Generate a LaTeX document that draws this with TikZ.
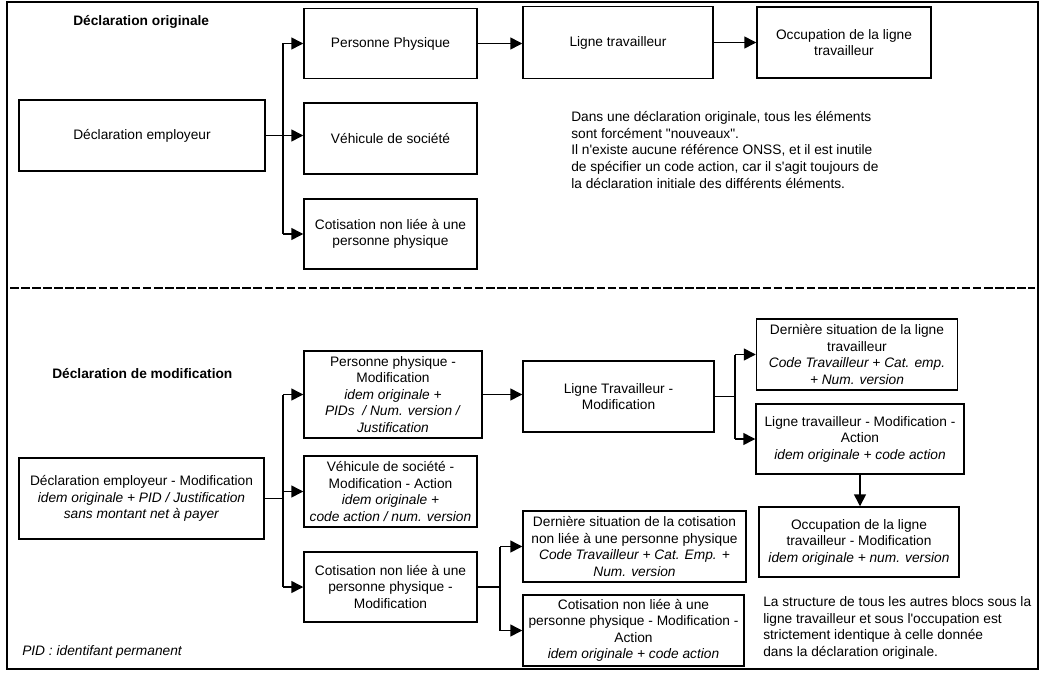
\documentclass[tikz,border=0pt]{standalone}
\usepackage{fontspec}
\setmainfont{Liberation Sans}[Ligatures=TeXOff]
\usetikzlibrary{arrows.meta}
\begin{document}
\begin{tikzpicture}[x=0.75pt,y=-0.75pt,
  every node/.style={font=\fontsize{10.3}{12.4}\selectfont},
  box/.style={draw, line width=1.1pt, align=center, inner sep=0pt},
  conn/.style={line width=1.1pt},
  arr/.style={line width=1.1pt, -{Triangle[length=9pt,width=9pt]}},
  title/.style={font=\fontsize{10.3}{12.4}\selectfont\bfseries, anchor=west, inner sep=0pt},
  note/.style={align=left, anchor=west, inner sep=0pt}]
\useasboundingbox (0,0) rectangle (1045,674);
% frame and separator
\draw[line width=2pt] (7,2) rectangle (1038,669);
\draw[line width=1.6pt, dash pattern=on 6.5pt off 1.8pt] (10,288) -- (1035,288);

% ---------- top: original declaration ----------
\node[title] (t1) at (73,22) {Déclaration originale};
\node[box, minimum width=246*0.75pt, minimum height=71*0.75pt] (de) at (142,135.5) {Déclaration employeur};
\node[box, minimum width=173*0.75pt, minimum height=70*0.75pt] (pp) at (390.5,43.5) {Personne Physique};
\node[box, minimum width=173*0.75pt, minimum height=71*0.75pt] (vs) at (390.5,138.5) {Véhicule de société};
\node[box, minimum width=173*0.75pt, minimum height=70*0.75pt] (cot) at (390.5,234) {Cotisation non liée à une\\personne physique};
\node[box, minimum width=190*0.75pt, minimum height=72*0.75pt] (lt) at (618,42.5) {Ligne travailleur};
\node[box, minimum width=174*0.75pt, minimum height=71*0.75pt] (occ) at (844,42.5) {Occupation de la ligne\\travailleur};
\node[note] (n1) at (571,150) {Dans une déclaration originale, tous les éléments\\sont forcément "nouveaux".\\Il n'existe aucune référence ONSS, et il est inutile\\de spécifier un code action, car il s'agit toujours de\\la déclaration initiale des différents éléments.};

\coordinate (j1) at (283,0);
\draw[conn] (de.east) -- (j1 |- de.east);
\draw[conn] (j1 |- pp.west) -- (j1 |- cot.west);
\draw[arr] (j1 |- pp.west) -- (pp.west);
\draw[arr] (j1 |- de.east) -- (vs.west |- de.east);
\draw[arr] (j1 |- cot.west) -- (cot.west);
\draw[arr] (pp.east) -- (lt.west |- pp.east);
\draw[arr] (lt.east) -- (occ.west |- lt.east);

% ---------- bottom: modification declaration ----------
\node[title] (t2) at (52,374) {Déclaration de modification};
\node[box, minimum width=245*0.75pt, minimum height=81*0.75pt] (dem) at (141.5,498.5) {Déclaration employeur - Modification\\\textit{idem originale + PID / Justification}\\\textit{sans montant net à payer}};
\node[box, minimum width=178*0.75pt, minimum height=87*0.75pt] (ppm) at (393,394.5) {Personne physique -\\Modification\\\textit{idem originale +}\\\textit{PIDs\ \ / Num. version /}\\\textit{Justification}};
\node[box, minimum width=173*0.75pt, minimum height=71*0.75pt] (vsm) at (390.5,491.5) {Véhicule de société -\\Modification - Action\\\textit{idem originale +}\\\textit{code action / num. version}};
\node[box, minimum width=173*0.75pt, minimum height=70*0.75pt] (cotm) at (390.5,587) {Cotisation non liée à une\\personne physique -\\Modification};
\node[box, minimum width=191*0.75pt, minimum height=71*0.75pt] (ltm) at (618.5,396.5) {Ligne Travailleur -\\Modification};
\node[box, minimum width=201*0.75pt, minimum height=71*0.75pt] (dsl) at (857,354.5) {Dernière situation de la ligne\\travailleur\\\textit{Code Travailleur + Cat. emp.}\\\textit{+ Num. version}};
\node[box, minimum width=208*0.75pt, minimum height=70*0.75pt] (ltma) at (860,439) {Ligne travailleur - Modification -\\Action\\\textit{idem originale + code action}};
\node[box, minimum width=200*0.75pt, minimum height=70*0.75pt] (occm) at (859,542) {Occupation de la ligne\\travailleur - Modification\\\textit{idem originale + num. version}};
\node[box, minimum width=223*0.75pt, minimum height=71*0.75pt] (dsc) at (634.5,546.5) {Dernière situation de la cotisation\\non liée à une personne physique\\\textit{Code Travailleur + Cat. Emp. +}\\\textit{Num. version}};
\node[box, minimum width=221*0.75pt, minimum height=71*0.75pt] (cma) at (633.5,630.5) {Cotisation non liée à une\\personne physique - Modification -\\Action\\\textit{idem originale + code action}};
\node[note] (n2) at (763,628) {La structure de tous les autres blocs sous la\\ligne travailleur et sous l'occupation est\\strictement identique à celle donnée\\dans la déclaration originale.};
\node[note, font=\fontsize{10.3}{12.4}\selectfont\itshape] (pid) at (22,652) {PID : identifant permanent};

\coordinate (j2) at (283,0);
\draw[conn] (dem.east) -- (j2 |- dem.east);
\draw[conn] (j2 |- ppm.west) -- (j2 |- cotm.west);
\draw[arr] (j2 |- ppm.west) -- (ppm.west);
\draw[arr] (j2 |- vsm.west) -- (vsm.west);
\draw[arr] (j2 |- cotm.west) -- (cotm.west);
\draw[arr] (ppm.east) -- (ltm.west |- ppm.east);

\coordinate (j3) at (735,0);
\draw[conn] (ltm.east) -- (j3 |- ltm.east);
\draw[conn] (j3 |- dsl.west) -- (j3 |- ltma.west);
\draw[arr] (j3 |- dsl.west) -- (dsl.west);
\draw[arr] (j3 |- ltma.west) -- (ltma.west);
\draw[arr] (ltma.south) -- (ltma.south |- occm.north);

\coordinate (j4) at (500,0);
\draw[conn] (cotm.east) -- (j4 |- cotm.east);
\draw[conn] (j4 |- dsc.west) -- (j4 |- cma.west);
\draw[arr] (j4 |- dsc.west) -- (dsc.west);
\draw[arr] (j4 |- cma.west) -- (cma.west);
\end{tikzpicture}
\end{document}
